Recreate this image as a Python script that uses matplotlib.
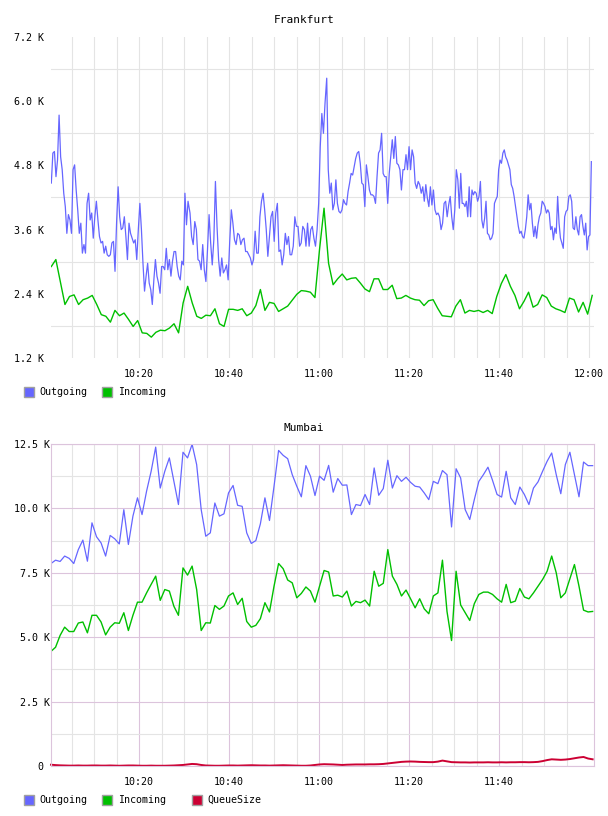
import numpy as np
import matplotlib
matplotlib.use("Agg")
import matplotlib.pyplot as plt
from matplotlib.ticker import FixedLocator, FuncFormatter
from matplotlib.patches import Rectangle

# all values in thousands, times in minutes after 10:00
# Frankfurt outgoing, read in four stretches (time span of each stretch below)
fra_out_1 = [4.47, 5.03, 5.06, 4.59, 4.90, 5.74, 4.96, 4.72, 4.28, 4.03, 3.53, 3.88, 3.78, 3.53, 4.72, 4.81, 4.34,
             3.97, 3.53, 3.72, 3.16, 3.32, 3.16, 4.09, 4.28, 3.78, 3.91, 3.44, 3.84, 4.13, 3.78, 3.47, 3.35, 3.38,
             3.16, 3.29, 3.13, 3.10, 3.13, 3.35, 3.38, 2.82, 3.72, 4.40, 3.84, 3.60, 3.63, 3.84, 3.47, 3.04, 3.72,
             3.53, 3.44, 3.35, 3.41, 3.04, 3.60, 4.09, 3.60, 2.97, 2.45, 2.73, 2.97, 2.60, 2.48, 2.20, 2.66, 3.04,
             2.73, 2.60, 2.41, 2.91, 2.91, 2.85, 3.25, 2.85, 3.04, 2.73, 3.01, 3.19, 3.19, 2.91, 2.73, 2.66, 3.01,
             2.94, 4.28, 3.69, 4.13]
fra_out_2 = [3.91, 3.47, 3.32, 3.75, 3.60, 3.04, 3.01, 2.85, 3.32, 2.85, 2.63, 3.22, 3.88, 3.35, 2.94, 3.41, 4.50,
             3.66, 3.04, 2.73, 3.07, 2.79, 2.85, 2.94, 2.66, 3.38, 3.97, 3.72, 3.41, 3.32, 3.53, 3.50, 3.32, 3.41,
             3.44, 3.19, 3.19, 3.13, 3.07, 2.94, 3.04, 3.57, 3.16, 3.16, 3.84, 4.13, 4.28, 3.97, 3.60, 3.10, 3.47,
             3.84, 3.94, 3.38, 3.91, 4.09, 3.19, 3.22, 2.94, 3.13, 3.53, 3.32, 3.47, 3.13, 3.13, 3.29, 3.84, 3.66,
             3.66, 3.29, 3.35, 3.66, 3.60, 3.29, 3.72, 3.29, 3.60, 3.66, 3.44, 3.29, 3.60, 4.09, 5.15, 5.77, 5.40,
             5.96]
fra_out_3 = [6.43, 4.72, 4.28, 4.47, 3.97, 4.09, 4.53, 4.09, 3.94, 3.91, 3.97, 4.16, 4.09, 4.06, 4.31, 4.47, 4.65,
             4.62, 4.78, 4.93, 5.03, 5.06, 4.84, 4.47, 4.44, 4.03, 4.81, 4.59, 4.34, 4.25, 4.25, 4.22, 4.09, 4.59,
             5.03, 5.09, 5.40, 4.65, 4.59, 4.59, 4.09, 4.65, 4.96, 5.28, 4.93, 5.34, 4.84, 4.81, 4.72, 4.34, 4.72,
             4.72, 5.00, 4.72, 5.15, 4.72, 5.09, 4.96, 4.47, 4.37, 4.50, 4.44, 4.28, 4.40, 4.13, 4.44, 4.19, 4.03,
             4.40, 4.06, 4.34, 3.97, 3.88, 3.91, 3.84, 3.60, 3.72, 4.09, 4.13, 3.84, 4.06, 4.22, 3.84, 3.60, 3.97,
             4.72, 4.53, 4.00]
fra_out_4 = [4.65, 4.09, 4.09, 4.03, 4.13, 3.84, 4.40, 3.84, 4.34, 4.25, 4.31, 4.28, 4.13, 4.22, 4.50, 3.78, 3.63,
             3.81, 4.13, 3.53, 3.50, 3.41, 3.44, 3.53, 4.09, 4.16, 4.22, 4.72, 4.90, 4.84, 5.03, 5.09, 4.96, 4.90,
             4.81, 4.72, 4.44, 4.37, 4.22, 4.03, 3.84, 3.66, 3.53, 3.57, 3.47, 3.44, 3.60, 3.84, 4.25, 3.97, 4.09,
             3.72, 3.47, 3.66, 3.44, 3.69, 3.84, 3.91, 4.13, 4.09, 4.03, 3.91, 3.97, 3.91, 3.60, 3.66, 3.41, 3.63,
             3.53, 4.22, 3.72, 3.44, 3.35, 3.25, 3.84, 3.94, 3.97, 4.22, 4.25, 4.13, 3.63, 3.60, 3.84, 3.60, 3.50,
             3.84, 3.88, 3.66, 3.50, 3.72, 3.22, 3.47, 3.50, 4.87]
fra_out_spans = [(0.51, 30.89), (31.33, 61.33), (61.71, 91.18), (91.49, 120.51)]

# Frankfurt incoming, one sample a minute
fra_in = [2.91, 3.04, 2.62, 2.20, 2.35, 2.38, 2.20, 2.29, 2.32, 2.37, 2.20, 2.01, 1.98, 1.87, 2.09, 1.99, 2.04,
          1.92, 1.79, 1.90, 1.67, 1.66, 1.59, 1.68, 1.72, 1.71, 1.76, 1.84, 1.67, 2.23, 2.54,
          2.23, 1.98, 1.94, 2.00, 1.99, 2.12, 1.84, 1.79, 2.11, 2.11, 2.09, 2.12, 1.99, 2.04, 2.18, 2.48, 2.09,
          2.24, 2.22, 2.07, 2.12, 2.17, 2.28, 2.39, 2.46, 2.45, 2.43, 2.33, 3.22, 4.00,
          2.97, 2.57, 2.68, 2.77, 2.66, 2.69, 2.70, 2.60, 2.49, 2.44, 2.68, 2.68, 2.48, 2.48, 2.56, 2.31, 2.32,
          2.37, 2.32, 2.29, 2.28, 2.18, 2.27, 2.29, 2.13, 1.99, 1.98, 1.97, 2.17, 2.29,
          2.04, 2.09, 2.07, 2.09, 2.05, 2.09, 2.03, 2.35, 2.59, 2.76, 2.54, 2.37, 2.12, 2.26, 2.43, 2.15, 2.20,
          2.38, 2.33, 2.17, 2.12, 2.09, 2.05, 2.32, 2.29, 2.06, 2.24, 2.02, 2.37]
fra_in_span = (0.51, 120.7)

# Mumbai, one sample a minute
mum_out = [7.86, 7.99, 7.94, 8.15, 8.06, 7.86, 8.40, 8.77, 7.95, 9.44, 8.90, 8.66, 8.15, 8.95, 8.82, 8.62, 9.95,
           8.60, 9.70, 10.41, 9.76, 10.67, 11.44, 12.38, 10.79, 11.44, 11.96, 11.05, 10.15, 12.18, 11.96, 12.49,
           11.70, 9.95, 8.92, 9.05, 10.21, 9.70, 9.79, 10.60, 10.89, 10.12, 10.08, 9.05, 8.64, 8.75, 9.40, 10.41,
           9.53, 10.86, 12.25, 12.06, 11.93, 11.31, 10.86, 10.45, 11.66, 11.25, 10.50, 11.25, 11.09, 11.67, 10.63,
           11.16, 10.90, 10.91, 9.76, 10.15, 10.11, 10.54, 10.15, 11.57, 10.51, 10.77, 11.87, 10.79, 11.27, 11.05,
           11.21, 11.01, 10.86, 10.83, 10.60, 10.34, 11.05, 10.96, 11.47, 11.31, 9.28, 11.54, 11.18, 9.95, 9.57,
           10.34, 11.05, 11.31, 11.60, 11.09, 10.54, 10.44, 11.44, 10.41, 10.15, 10.83, 10.54, 10.15, 10.79, 11.03,
           11.44, 11.83, 12.15, 11.31, 10.57, 11.70, 12.18, 11.31, 10.45, 11.80, 11.66, 11.66]
mum_in = [4.45, 4.61, 5.07, 5.39, 5.22, 5.22, 5.55, 5.59, 5.17, 5.85, 5.85, 5.59, 5.09, 5.39, 5.56, 5.54, 5.95,
          5.26, 5.85, 6.36, 6.36, 6.72, 7.05, 7.37, 6.43, 6.85, 6.79, 6.20, 5.85, 7.69, 7.41, 7.76, 6.85, 5.26,
          5.56, 5.55, 6.23, 6.08, 6.21, 6.60, 6.72, 6.27, 6.51, 5.61, 5.39, 5.46, 5.72, 6.34, 5.98, 6.98, 7.86,
          7.66, 7.22, 7.11, 6.53, 6.70, 6.95, 6.79, 6.36, 6.98, 7.59, 7.53, 6.60, 6.63, 6.56, 6.79, 6.21, 6.39,
          6.34, 6.44, 6.21, 7.56, 6.98, 7.09, 8.40, 7.37, 7.05, 6.60, 6.83, 6.49, 6.14, 6.49, 6.10, 5.91, 6.60,
          6.72, 7.99, 6.00, 4.87, 7.56, 6.25, 5.95, 5.65, 6.30, 6.66, 6.75, 6.75, 6.66, 6.49, 6.36, 7.05, 6.34,
          6.40, 6.89, 6.56, 6.49, 6.72, 6.98, 7.24, 7.56, 8.15, 7.50, 6.53, 6.72, 7.27, 7.82, 6.98, 6.05, 5.98,
          6.00]
mum_queue = [0.05, 0.035, 0.025, 0.02, 0.015, 0.015, 0.02, 0.015, 0.015, 0.02,
             0.02, 0.015, 0.015, 0.02, 0.015, 0.01, 0.015, 0.02, 0.02, 0.015,
             0.01, 0.01, 0.015, 0.01, 0.01, 0.01, 0.015, 0.02, 0.03, 0.04,
             0.06, 0.08, 0.07, 0.04, 0.02, 0.015, 0.01, 0.01, 0.015, 0.02,
             0.02, 0.015, 0.02, 0.025, 0.03, 0.025, 0.02, 0.02, 0.015, 0.02,
             0.025, 0.03, 0.025, 0.02, 0.015, 0.01, 0.01, 0.02, 0.04, 0.06,
             0.07, 0.065, 0.06, 0.05, 0.04, 0.05, 0.055, 0.06, 0.06, 0.06,
             0.065, 0.065, 0.07, 0.08, 0.10, 0.12, 0.14, 0.16, 0.17, 0.175,
             0.17, 0.16, 0.155, 0.15, 0.15, 0.17, 0.21, 0.18, 0.15, 0.145,
             0.14, 0.14, 0.135, 0.14, 0.14, 0.14, 0.145, 0.14, 0.14, 0.145,
             0.14, 0.145, 0.145, 0.15, 0.15, 0.145, 0.15, 0.16, 0.19, 0.23,
             0.26, 0.25, 0.24, 0.25, 0.27, 0.30, 0.33, 0.35, 0.29, 0.26]
mum_span = (0.44, 120.8)

fra_yticks = [1.2, 2.4, 3.6, 4.8, 6.0, 7.2]
mum_yticks = [0, 2.5, 5.0, 7.5, 10.0, 12.5]

BLUE, GREEN, RED = '#6666ff', '#00c000', '#cc0033'
GRAY, PURPLE = '#e4e4e4', '#dcc4dc'
W, H = 608, 816
plt.rcParams['font.family'] = 'DejaVu Sans Mono'
fs = 7.2

fig = plt.figure(figsize=(W / 100, H / 100), dpi=100)


def px_axes(left, top, right, bottom):
    return fig.add_axes([left / W, 1 - bottom / H, (right - left) / W, (bottom - top) / H])


def clock(m, pos=None):
    m = int(round(m))
    return '%d:%02d' % (10 + m // 60, m % 60)


def kfmt(v, pos=None):
    return '0 ' if v == 0 else '%.1f K' % v


def legend(y, items):
    for xs, xt, label, color in items:
        fig.add_artist(Rectangle((xs / W, 1 - (y + 5) / H), 10 / W, 10 / H, transform=fig.transFigure,
                                 facecolor=color, edgecolor='#a0a0a0', lw=1))
        fig.text(xt / W, 1 - y / H, label, ha='left', va='center', fontsize=fs)


# ---- Frankfurt
ax1 = px_axes(51, 37, 594, 358)
ax1.set_xlim(0.44, 121.1)
ax1.set_ylim(1.2, 7.2)
for s in ax1.spines.values():
    s.set_visible(False)
ax1.yaxis.set_major_locator(FixedLocator(fra_yticks))
ax1.yaxis.set_minor_locator(FixedLocator([v + 0.6 for v in fra_yticks[:-1]]))
ax1.yaxis.set_major_formatter(FuncFormatter(kfmt))
ax1.xaxis.set_major_locator(FixedLocator(range(20, 121, 20)))
ax1.xaxis.set_minor_locator(FixedLocator([m for m in range(5, 121, 5) if m % 20]))
ax1.xaxis.set_major_formatter(FuncFormatter(clock))
ax1.yaxis.grid(True, which='minor', color=GRAY, lw=0.8)
ax1.xaxis.grid(True, which='both', color=GRAY, lw=0.8)
ax1.tick_params(which='both', length=0, labelsize=fs)
ax1.tick_params(axis='y', pad=5)
ax1.tick_params(axis='x', pad=8)
ax1.set_axisbelow(True)

# outgoing: each stretch spread evenly over its own time span
out_parts = [fra_out_1, fra_out_2, fra_out_3, fra_out_4]
t_out = np.concatenate([np.linspace(a, b, len(p)) for (a, b), p in zip(fra_out_spans, out_parts)])
v_out = np.concatenate(out_parts)
ax1.plot(t_out, v_out, color=BLUE, lw=0.9)
ax1.plot(np.linspace(*fra_in_span, len(fra_in)), fra_in, color=GREEN, lw=1.0)

fig.text(0.5, 1 - 20 / H, 'Frankfurt', ha='center', va='center', fontsize=8)
legend(392, [(24, 39, 'Outgoing', BLUE), (102, 118, 'Incoming', GREEN)])

# ---- Mumbai
ax2 = px_axes(51, 444, 594, 766)
ax2.set_xlim(0.44, 121.1)
ax2.set_ylim(0, 12.5)
for s in ax2.spines.values():
    s.set_color(PURPLE)
    s.set_linewidth(0.8)
ax2.yaxis.set_major_locator(FixedLocator(mum_yticks))
ax2.yaxis.set_minor_locator(FixedLocator([v + 1.25 for v in mum_yticks[:-1]]))
ax2.yaxis.set_major_formatter(FuncFormatter(kfmt))
ax2.xaxis.set_major_locator(FixedLocator(range(20, 101, 20)))
ax2.xaxis.set_minor_locator(FixedLocator([m for m in range(5, 120, 5) if m % 20]))
ax2.xaxis.set_major_formatter(FuncFormatter(clock))
ax2.grid(True, which='minor', color=GRAY, lw=0.8)
ax2.grid(True, which='major', color=PURPLE, lw=0.8)
ax2.tick_params(which='both', length=0, labelsize=fs)
ax2.tick_params(axis='y', pad=1)
ax2.tick_params(axis='x', pad=8)
ax2.set_axisbelow(True)

ax2.plot(np.linspace(*mum_span, len(mum_out)), mum_out, color=BLUE, lw=0.9)
ax2.plot(np.linspace(*mum_span, len(mum_in)), mum_in, color=GREEN, lw=1.0)
ax2.plot(np.linspace(*mum_span, len(mum_queue)), mum_queue, color=RED, lw=1.4, clip_on=False)

fig.text(0.5, 1 - 428 / H, 'Mumbai', ha='center', va='center', fontsize=8)
legend(800, [(24, 39, 'Outgoing', BLUE), (102, 118, 'Incoming', GREEN), (192, 207, 'QueueSize', RED)])

fig.savefig('out.png', dpi=100)
